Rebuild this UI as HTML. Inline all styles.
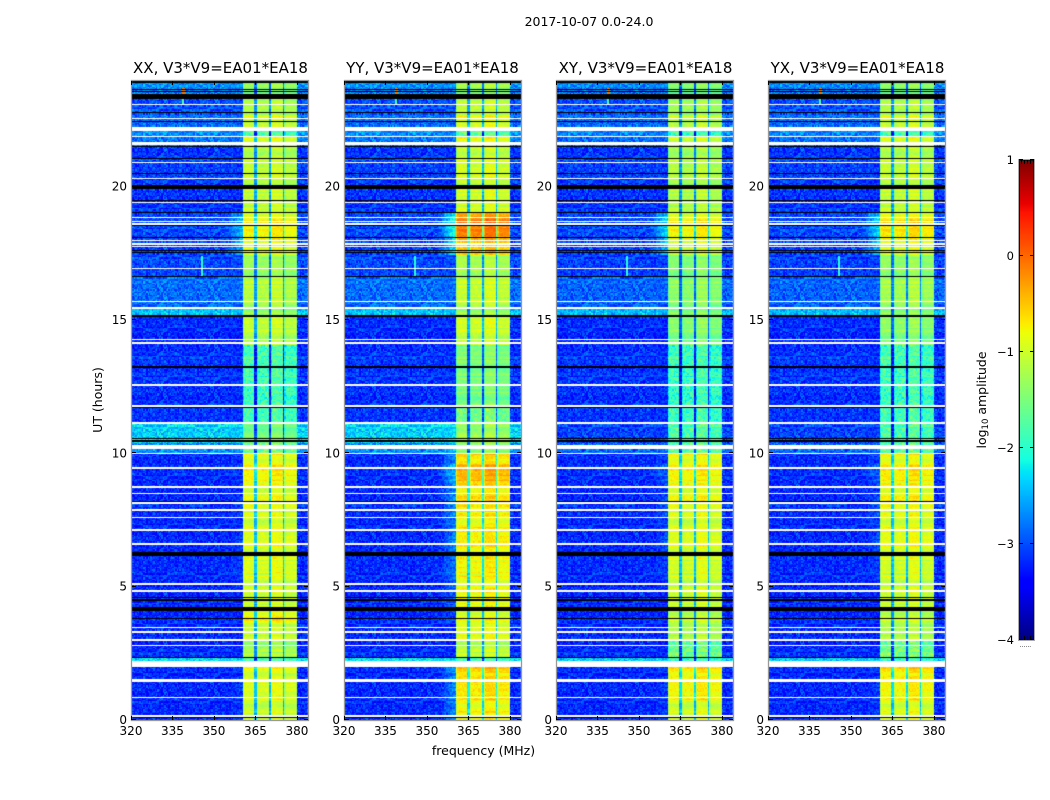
<!DOCTYPE html>
<html>
<head>
<meta charset="utf-8">
<style>
html,body{margin:0;padding:0;background:#fff;}
#stage{position:relative;width:1050px;height:800px;overflow:hidden;background:#fff;font-family:"DejaVu Sans","Liberation Sans",sans-serif;}
canvas{position:absolute;display:block;}
svg{position:absolute;left:0;top:0;}
text{font-family:"DejaVu Sans","Liberation Sans",sans-serif;fill:#000;}
</style>
</head>
<body>
<div id="stage">
<canvas id="heat0"></canvas>
<canvas id="heat1"></canvas>
<canvas id="heat2"></canvas>
<canvas id="heat3"></canvas>
<canvas id="cbar"></canvas>
<svg id="overlay" width="1050" height="800">
<text x="589" y="26" font-size="12.5" text-anchor="middle">2017-10-07 0.0-24.0</text>
<text x="483.5" y="755" font-size="12.5" text-anchor="middle">frequency (MHz)</text>
<text transform="translate(102,400) rotate(-90)" font-size="12.5" text-anchor="middle">UT (hours)</text>
<text transform="translate(986,400) rotate(-90)" font-size="12.5" text-anchor="middle">log<tspan font-size="8.5" dy="2">10</tspan><tspan dy="-2"> amplitude</tspan></text>
</svg>
</div>
<script>
// ---- axis domain ----
const freqDomain = [320, 384];
const hourDomain = [0, 24];
const colorDomain = [-4, 1];
const freqTicks = [320, 335, 350, 365, 380];
const hourTicks = [0, 5, 10, 15, 20];
const colorTicks = [1, 0, -1, -2, -3, -4];
const panelTitles = ["XX, V3*V9=EA01*EA18", "YY, V3*V9=EA01*EA18", "XY, V3*V9=EA01*EA18", "YX, V3*V9=EA01*EA18"];
const panelNames = ["xx", "yy", "xy", "yx"];

// ---- log10 amplitude per time segment ----
const segmentStart = [0, 0.7, 1.5, 2.2, 2.35, 3, 3.65, 4.1, 5, 6.15, 8.1, 8.9, 9.6, 10, 10.4, 11.1, 11.75, 14.05, 15.1, 15.5, 16.6, 17.45, 18.1, 19.05, 20, 21.5, 21.65, 21.9, 22.25, 22.7, 23.4];
const backgroundXX = [-3.2, -3.2, -3.2, -2.3, -3.2, -3.2, -3.2, -3.2, -3.2, -3.2, -3.2, -3.2, -3.2, -2.7, -2.35, -3.15, -3.15, -3.2, -2.45, -2.85, -3.05, -3.05, -3.05, -3.15, -3.1, -2.85, -2.8, -2.7, -2.85, -3.0, -2.7];
const backgroundYY = [-3.2, -3.2, -3.2, -2.3, -3.2, -3.2, -3.2, -3.2, -3.2, -3.2, -3.2, -3.2, -3.2, -2.7, -2.35, -3.15, -3.15, -3.2, -2.45, -2.85, -3.05, -3.05, -3.05, -3.15, -3.1, -2.85, -2.8, -2.7, -2.85, -3.0, -2.7];
const backgroundXY = [-3.2, -3.2, -3.2, -2.4, -3.2, -3.2, -3.2, -3.2, -3.2, -3.2, -3.2, -3.2, -3.2, -2.9, -3.05, -3.15, -3.15, -3.2, -2.5, -2.9, -3.1, -3.05, -3.05, -3.15, -3.1, -2.9, -2.85, -2.75, -2.85, -3.0, -2.75];
const backgroundYX = [-3.2, -3.2, -3.2, -2.4, -3.2, -3.2, -3.2, -3.2, -3.2, -3.2, -3.2, -3.2, -3.2, -2.9, -3.05, -3.15, -3.15, -3.2, -2.5, -2.9, -3.1, -3.05, -3.05, -3.15, -3.1, -2.9, -2.85, -2.75, -2.85, -3.0, -2.75];
const bandXX = [-1.0, -0.95, -0.9, -1.8, -1.25, -1.1, -0.75, -1.05, -0.95, -0.95, -0.9, -0.8, -0.85, -1.6, -1.5, -1.85, -1.85, -1.1, -1.4, -1.15, -1.35, -0.85, -0.8, -1.1, -1.1, -1.2, -0.95, -1.8, -0.95, -1.2, -1.4];
const bandYY = [-0.75, -0.7, -0.55, -1.8, -1.1, -0.95, -0.85, -0.85, -0.8, -0.75, -0.65, -0.45, -0.6, -1.5, -1.25, -1.55, -1.5, -1.0, -1.35, -1.05, -1.25, -0.45, -0.15, -1.0, -1.0, -1.1, -0.85, -1.7, -0.85, -1.1, -1.3];
const bandXY = [-0.95, -0.8, -0.7, -1.9, -1.6, -1.25, -1.05, -1.05, -1.0, -0.95, -0.85, -0.8, -0.8, -1.7, -1.75, -1.9, -1.9, -1.45, -1.5, -1.4, -1.5, -0.95, -0.8, -1.2, -1.2, -1.3, -1.05, -1.9, -1.05, -1.3, -1.5];
const bandYX = [-0.9, -0.8, -0.65, -1.9, -1.55, -1.25, -1.05, -1.05, -1.0, -0.9, -0.8, -0.75, -0.8, -1.7, -1.75, -1.85, -1.85, -1.4, -1.45, -1.25, -1.4, -0.85, -0.7, -1.1, -1.1, -1.2, -0.95, -1.85, -0.95, -1.2, -1.45];
const shoulderXX = [0.1, 0.1, 0.1, 0, 0, 0, 0, 0, 0.1, 0.1, 0.1, 0.1, 0.1, 0, 0, 0, 0, 0, 0, 0, 0, 0.6, 0.6, 0, 0, 0, 0, 0, 0, 0, 0];
const shoulderYY = [0.5, 0.5, 0.6, 0, 0, 0, 0.2, 0.3, 0.4, 0.5, 0.6, 0.8, 0.6, 0.2, 0.1, 0, 0, 0, 0, 0, 0, 0.9, 1.1, 0, 0, 0, 0, 0, 0, 0, 0];
const shoulderXY = [0.1, 0.1, 0.1, 0, 0, 0, 0, 0, 0.1, 0.2, 0.2, 0.3, 0.2, 0, 0, 0, 0, 0, 0, 0, 0, 0.7, 0.8, 0, 0, 0, 0, 0, 0, 0, 0];
const shoulderYX = [0.1, 0.1, 0.1, 0, 0, 0, 0, 0, 0.1, 0.2, 0.2, 0.3, 0.2, 0, 0, 0, 0, 0, 0, 0, 0, 0.7, 0.8, 0, 0, 0, 0, 0, 0, 0, 0];

// ---- frequency structure (MHz) and level offsets relative to the band level ----
const shoulderStart = 354;
const bandEdges = [360.5, 361, 364.7, 365.5, 365.9, 369.8, 370.6, 371, 374.9, 375.7, 376.1, 379.5, 380];
const bandOffsets = [-0.3, 0, -1.5, -0.3, -0.04, -1.5, -0.25, 0.08, -1.5, -0.3, -0.05, -0.2];

// ---- flagged rows in hours ----
const whiteRows = [[0.13,0.2],[0.81,0.87],[1.43,1.52],[2.0,2.2],[2.78,2.83],[2.97,3.02],[3.27,3.32],[3.45,3.5],[4.8,4.86],[5.07,5.12],[6.57,6.62],[7.1,7.15],[7.58,7.63],[7.85,7.9],[8.11,8.16],[8.48,8.53],[8.71,8.76],[9.43,9.48],[9.98,10.03],[10.15,10.31],[11.11,11.16],[11.75,11.8],[12.54,12.59],[14.1,14.17],[14.25,14.3],[15.42,15.5],[15.66,15.71],[16.9,16.95],[17.72,17.77],[17.83,17.88],[17.95,18.0],[18.58,18.63],[18.66,18.71],[18.81,18.86],[19.38,19.43],[20.28,20.33],[20.88,20.93],[21.55,21.68],[21.85,21.9],[22.1,22.25],[22.53,22.58],[23.05,23.1]];
const blackRows = [[0.06,0.11],[2.31,2.36],[3.78,3.83],[4.07,4.22],[4.47,4.52],[4.58,4.63],[6.14,6.29],[8.15,8.2],[10.44,10.49],[10.52,10.57],[11.71,11.76],[13.2,13.27],[15.13,15.18],[16.6,16.65],[17.52,17.56],[17.58,17.62],[18.06,18.11],[18.51,18.56],[19.0,19.05],[19.45,19.5],[19.93,20.06],[20.46,20.51],[21.03,21.08],[21.48,21.53],[22.42,22.47],[22.76,22.81],[23.3,23.47],[23.55,23.6],[23.62,23.67],[23.88,24]];

// ---- narrow interference spots: MHz, start hour, end hour, level ----
const spotFreq = [338.8, 338.8, 345.5];
const spotStart = [23.45, 23.05, 16.6];
const spotEnd = [23.7, 23.45, 17.4];
const spotLevel = [-0.1, -1.8, -2.0];

// ---- texture offsets ----
const cellGrain = [0.31,-0.52,0.12,0.74,-0.21,-0.63,0.44,-0.08,0.95,-0.37,0.18,-0.71,0.53,0.02,-0.44,0.67,-0.15,0.29,-0.86,0.38,-0.27,0.09,0.81,-0.58,0.23,-0.33,0.6,-0.12,-0.77,0.41,0.05,-0.49,0.86,-0.19,0.15,-0.64,0.34];
const rowGrain = [0.1,-0.25,0.35,-0.05,0.5,-0.4,0.2,-0.15,0.05,0.4,-0.3,-0.1,0.25,-0.45,0.15,0.3,-0.2,0,0.45,-0.35,0.08,-0.12,0.28];

const panelBackground = [backgroundXX, backgroundYY, backgroundXY, backgroundYX];
const panelBand = [bandXX, bandYY, bandXY, bandYX];
const panelShoulder = [shoulderXX, shoulderYY, shoulderXY, shoulderYX];

const panelLeft = [131, 344, 556, 768];
const panelWidth = 177;
const plotTop = 80;
const plotHeight = 640;
const cbarBox = {x: 1019, y: 160, w: 15, h: 480};
const channelWidth = 0.5;
const rowHours = 0.05;

function xScale(f, left) { return left + (f - freqDomain[0]) / (freqDomain[1] - freqDomain[0]) * panelWidth; }
function yScale(h) { return plotTop + plotHeight - (h - hourDomain[0]) / (hourDomain[1] - hourDomain[0]) * plotHeight; }

function ramp(t, pts) {
  if (t <= pts[0][0]) return pts[0][1];
  for (let i = 1; i < pts.length; i++) {
    if (t <= pts[i][0]) {
      const a = pts[i - 1], b = pts[i];
      return a[1] + (b[1] - a[1]) * (t - a[0]) / (b[0] - a[0]);
    }
  }
  return pts[pts.length - 1][1];
}
function jet(v) {
  const t = (v - colorDomain[0]) / (colorDomain[1] - colorDomain[0]);
  const r = ramp(t, [[0.35, 0], [0.66, 1], [0.89, 1], [1, 0.5]]);
  const g = ramp(t, [[0.125, 0], [0.375, 1], [0.64, 1], [0.91, 0]]);
  const b = ramp(t, [[0, 0.5], [0.11, 1], [0.34, 1], [0.65, 0]]);
  return 'rgb(' + Math.round(r * 255) + ',' + Math.round(g * 255) + ',' + Math.round(b * 255) + ')';
}
function segmentIndex(h) {
  let s = 0;
  for (let i = 0; i < segmentStart.length; i++) if (h >= segmentStart[i]) s = i;
  return s;
}
function cellLevel(p, f, h, c, r) {
  const s = segmentIndex(h);
  const g = cellGrain[(c * c + 3 * r * r + c * r + 5 * c) % cellGrain.length];
  const rg = rowGrain[(r * r + 2 * r) % rowGrain.length];
  if (f >= bandEdges[0] && f < bandEdges[bandEdges.length - 1]) {
    let off = 0;
    for (let i = 0; i < bandOffsets.length; i++) {
      if (f >= bandEdges[i] && f < bandEdges[i + 1]) off = bandOffsets[i];
    }
    const level = panelBand[p][s];
    const grainScale = level < -1.5 ? 0.42 : 0.16;
    const rowScale = level < -1.5 ? 0.12 : 0.42;
    return level + off + g * grainScale + rg * rowScale;
  }
  if (f >= shoulderStart && f < bandEdges[0]) {
    const k = (f - shoulderStart) / (bandEdges[0] - shoulderStart);
    return panelBackground[p][s] + panelShoulder[p][s] * k + g * 0.35 + rg * 0.25 * k;
  }
  return panelBackground[p][s] + g * 0.42 + rg * 0.1;
}
function drawHeatmap(p) {
  const cv = document.getElementById('heat' + p);
  const left = panelLeft[p];
  cv.width = panelWidth + 1;
  cv.height = plotHeight;
  cv.style.left = left + 'px';
  cv.style.top = plotTop + 'px';
  const ctx = cv.getContext('2d');
  const nCols = Math.round((freqDomain[1] - freqDomain[0]) / channelWidth);
  const nRows = Math.round((hourDomain[1] - hourDomain[0]) / rowHours);
  for (let r = 0; r < nRows; r++) {
    const h = hourDomain[0] + r * rowHours;
    const y1 = Math.round(yScale(h)) - plotTop;
    const y0 = Math.round(yScale(h + rowHours)) - plotTop;
    for (let c = 0; c < nCols; c++) {
      const f = freqDomain[0] + c * channelWidth;
      const x0 = Math.round(xScale(f, 0));
      const x1 = Math.round(xScale(f + channelWidth, 0));
      ctx.fillStyle = jet(cellLevel(p, f + channelWidth / 2, h + rowHours / 2, c, r));
      ctx.fillRect(x0, y0, x1 - x0, y1 - y0);
    }
  }
  spotFreq.forEach(function (f, i) {
    const x0 = Math.round(xScale(f, 0));
    const y0 = Math.round(yScale(spotEnd[i])) - plotTop;
    const y1 = Math.round(yScale(spotStart[i])) - plotTop;
    ctx.fillStyle = jet(spotLevel[i]);
    ctx.fillRect(x0 - 1, y0, i === 0 ? 3 : 2, y1 - y0);
  });
  function flagged(list, color) {
    ctx.fillStyle = color;
    list.forEach(function (row) {
      const y0 = Math.round(yScale(row[1])) - plotTop;
      const y1 = Math.round(yScale(row[0])) - plotTop;
      ctx.fillRect(0, y0, panelWidth + 1, Math.max(1, y1 - y0));
    });
  }
  flagged(blackRows, '#000');
  flagged(whiteRows, '#fff');
}

const svgNS = 'http://www.w3.org/2000/svg';
const overlay = document.getElementById('overlay');
function addLine(x1, y1, x2, y2, color) {
  const l = document.createElementNS(svgNS, 'line');
  l.setAttribute('x1', x1);
  l.setAttribute('y1', y1);
  l.setAttribute('x2', x2);
  l.setAttribute('y2', y2);
  l.setAttribute('stroke', color);
  l.setAttribute('stroke-width', '1');
  overlay.appendChild(l);
  return l;
}
function addText(x, y, str, size, anchor) {
  const t = document.createElementNS(svgNS, 'text');
  t.setAttribute('x', x);
  t.setAttribute('y', y);
  t.setAttribute('font-size', size);
  t.setAttribute('text-anchor', anchor);
  t.textContent = str;
  overlay.appendChild(t);
  return t;
}
function drawAxes(p) {
  const left = panelLeft[p];
  const right = left + panelWidth;
  const bottom = plotTop + plotHeight;
  const frame = document.createElementNS(svgNS, 'rect');
  frame.setAttribute('x', left + 0.5);
  frame.setAttribute('y', plotTop + 0.5);
  frame.setAttribute('width', panelWidth);
  frame.setAttribute('height', plotHeight);
  frame.setAttribute('fill', 'none');
  frame.setAttribute('stroke', '#999');
  frame.setAttribute('stroke-width', '1.3');
  
  
  overlay.appendChild(frame);
  const title = addText(left + panelWidth / 2 + (p === 1 ? 0 : 1), plotTop - 7, panelTitles[p], 15, 'middle');
  
  
  freqTicks.forEach(function (f) {
    const x = Math.round(xScale(f, left)) + 0.5;
    const t1 = addLine(x, bottom, x, bottom - 4, '#000');
    
    
    const t2 = addLine(x, plotTop + 1, x, plotTop + 5, '#000');
    
    
    const lab = addText(xScale(f, left), bottom + 15, String(f), 12, 'middle');
    
    
  });
  hourTicks.forEach(function (h) {
    const y = Math.round(yScale(h)) - 0.5;
    const t1 = addLine(left + 1, y, left + 5, y, '#000');
    
    
    const t2 = addLine(right, y, right - 4, y, '#000');
    
    
    const lab = addText(left - 4, yScale(h) + 4, String(h), 12, 'end');
    
    
  });
}
function colorY(v) {
  return cbarBox.y + cbarBox.h - (v - colorDomain[0]) / (colorDomain[1] - colorDomain[0]) * cbarBox.h;
}
function drawColorbar() {
  const cv = document.getElementById('cbar');
  cv.width = cbarBox.w;
  cv.height = cbarBox.h;
  cv.style.left = cbarBox.x + 'px';
  cv.style.top = cbarBox.y + 'px';
  const ctx = cv.getContext('2d');
  for (let y = 0; y < cbarBox.h; y++) {
    const v = colorDomain[1] - (y + 0.5) / cbarBox.h * (colorDomain[1] - colorDomain[0]);
    ctx.fillStyle = jet(v);
    ctx.fillRect(0, y, cbarBox.w, 1);
  }
  const outer = document.createElementNS(svgNS, 'rect');
  outer.setAttribute('x', cbarBox.x - 0.5);
  outer.setAttribute('y', cbarBox.y - 0.5);
  outer.setAttribute('width', cbarBox.w + 1);
  outer.setAttribute('height', cbarBox.h + 1);
  outer.setAttribute('fill', 'none');
  outer.setAttribute('stroke', '#aaa');
  
  
  overlay.appendChild(outer);
  const inner = document.createElementNS(svgNS, 'rect');
  inner.setAttribute('x', cbarBox.x + 0.5);
  inner.setAttribute('y', cbarBox.y + 0.5);
  inner.setAttribute('width', cbarBox.w - 1);
  inner.setAttribute('height', cbarBox.h - 1);
  inner.setAttribute('fill', 'none');
  inner.setAttribute('stroke', '#111');
  
  
  overlay.appendChild(inner);
  colorTicks.forEach(function (v) {
    const y = Math.round(colorY(v)) - 0.5;
    const t1 = addLine(cbarBox.x, y, cbarBox.x + 4, y, '#000');
    
    
    const t2 = addLine(cbarBox.x + cbarBox.w, y, cbarBox.x + cbarBox.w - 4, y, '#000');
    
    
    const str = v < 0 ? '\u2212' + Math.abs(v) : String(v);
    const lab = addText(cbarBox.x - 5, colorY(v) + 4, str, 11.5, 'end');
    
    
  });
  [2, 5, 8, 11, 14].forEach(function (dx) {
    addLine(cbarBox.x + dx + 0.5, cbarBox.y, cbarBox.x + dx + 0.5, cbarBox.y + 4, '#000');
    addLine(cbarBox.x + dx + 0.5, cbarBox.y + cbarBox.h, cbarBox.x + dx + 0.5, cbarBox.y + cbarBox.h - 4, '#000');
  });
  const dots = addText(cbarBox.x + cbarBox.w / 2 - 1, cbarBox.y + cbarBox.h + 7, '......', 6, 'middle');
  dots.setAttribute('fill', '#777');
  
  
}
panelLeft.forEach(function (_, p) {
  drawHeatmap(p);
  drawAxes(p);
});
drawColorbar();
</script>
</body>
</html>
